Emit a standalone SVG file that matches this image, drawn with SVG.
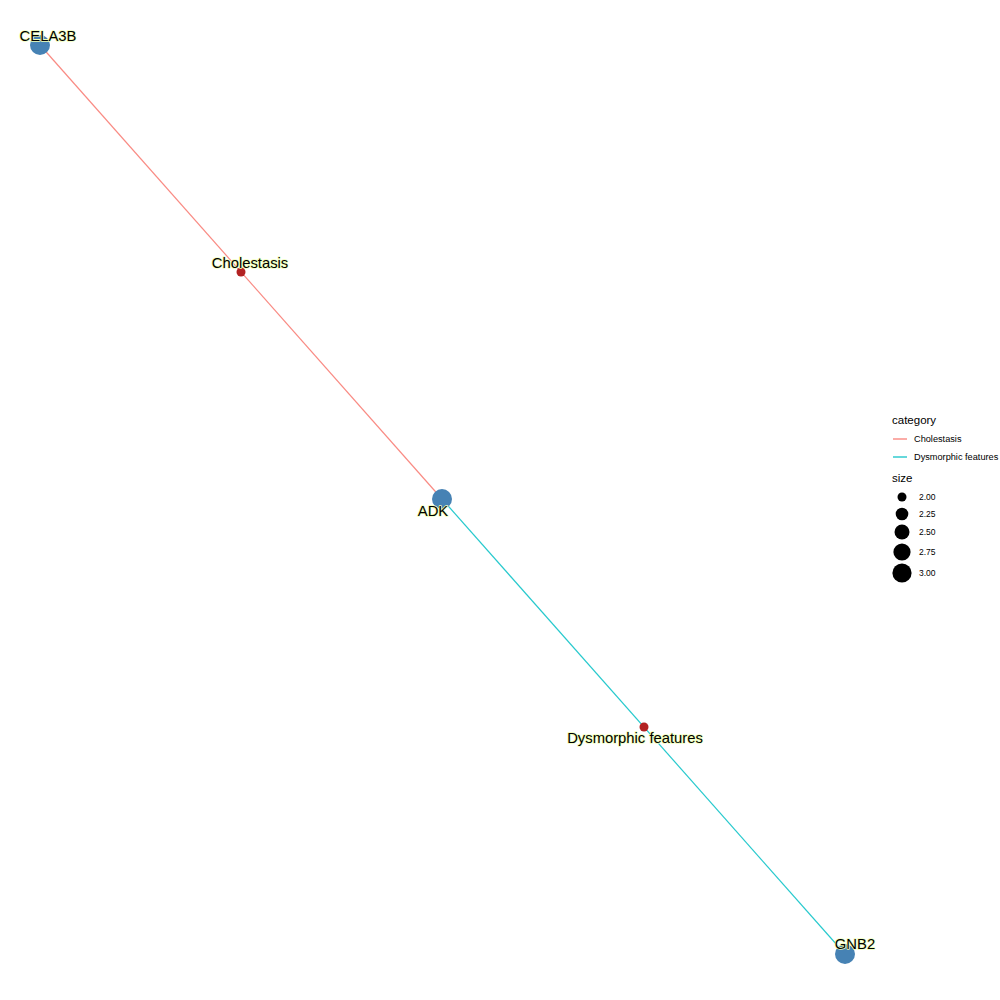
<svg xmlns="http://www.w3.org/2000/svg" width="1000" height="1000" viewBox="0 0 1000 1000">
<style>
.lbl{font-family:"Liberation Sans",Arial,sans-serif;font-size:14.8px;fill:#000;stroke:#f0ffb8;stroke-width:1.6px;paint-order:stroke;stroke-linejoin:round;text-anchor:middle}
.gene{fill:#4682B4}
.cat{fill:#B22222}
.lt{font-family:"Liberation Sans",Arial,sans-serif;fill:#000}
</style>
<rect width="1000" height="1000" fill="#fff"/>
<g id="connectors">
<line x1="40" y1="45" x2="442" y2="499" stroke="#F8766D" stroke-width="1.2" stroke-opacity="0.85"/>
<line x1="442" y1="499" x2="845" y2="954" stroke="#00BFC4" stroke-width="1.2" stroke-opacity="0.85"/>
</g>
<g id="node-CELA3B"><circle class="gene" cx="40" cy="45" r="10"/><text class="lbl" x="48" y="41">CELA3B</text></g>
<g id="node-Cholestasis"><circle class="cat" cx="241" cy="272" r="4.5"/><text class="lbl" x="250" y="268">Cholestasis</text></g>
<g id="node-ADK"><circle class="gene" cx="442" cy="499" r="10"/><text class="lbl" x="433" y="516">ADK</text></g>
<g id="node-Dysmorphic"><circle class="cat" cx="644" cy="727" r="4.5"/><text class="lbl" x="635" y="743">Dysmorphic features</text></g>
<g id="node-GNB2"><circle class="gene" cx="845" cy="954" r="10"/><text class="lbl" x="855" y="949">GNB2</text></g>
<g id="legend">
<text class="lt" x="892" y="424" font-size="11.5">category</text>
<line x1="893" y1="439" x2="907" y2="439" stroke="#F8766D" stroke-width="1.2"/>
<text class="lt" x="914" y="442" font-size="9.2">Cholestasis</text>
<line x1="893" y1="457" x2="907" y2="457" stroke="#00BFC4" stroke-width="1.2"/>
<text class="lt" x="914" y="460" font-size="9.2">Dysmorphic features</text>
<text class="lt" x="892" y="482" font-size="11.5">size</text>
<circle cx="902" cy="497" r="4.5"/><text class="lt" x="919" y="500" font-size="8.5">2.00</text>
<circle cx="902" cy="514" r="6.3"/><text class="lt" x="919" y="517" font-size="8.5">2.25</text>
<circle cx="902" cy="532" r="7.5"/><text class="lt" x="919" y="535" font-size="8.5">2.50</text>
<circle cx="902" cy="552" r="8.6"/><text class="lt" x="919" y="555" font-size="8.5">2.75</text>
<circle cx="902" cy="573" r="9.6"/><text class="lt" x="919" y="576" font-size="8.5">3.00</text>
</g>
</svg>
